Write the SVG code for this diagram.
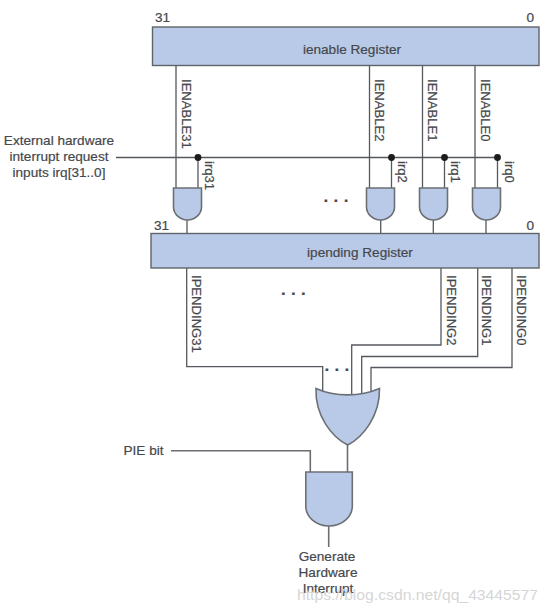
<svg xmlns="http://www.w3.org/2000/svg" width="548" height="613" viewBox="0 0 548 613">
<style>
text{font-family:"Liberation Sans",Arial,sans-serif;font-size:13.6px;fill:#46484c;stroke:#46484c;stroke-width:.2}
.v{font-size:13.1px}
.reg{fill:#b9cae8;stroke:#5f6468;stroke-width:1.4}
.gate{fill:#b9cae8;stroke:#6c7074;stroke-width:1.6}
.w{fill:none;stroke:#55585c;stroke-width:1.3}
.w2{fill:none;stroke:#6a6d71;stroke-width:1.6}
.dot{fill:#1c1c1c}
.c{text-anchor:middle}
.dots{font-size:17px;font-weight:bold}
.wm{font-size:15.5px;fill:#d6d6d6;stroke:none}
</style>
<rect width="548" height="613" fill="#fff"/>
<g id="connectors">
<path class="w" d="M176 65V188M369.5 65V188M422.5 65V188M475 65V188"/>
<path class="w" d="M116 157.5H497.5"/>
<path class="w" d="M198 157.5V188M391.5 157.5V188M444.5 157.5V188M497.5 157.5V188"/>
<path class="w" d="M187 220V234M380.7 220V234M433.3 220V234M486 220V234"/>
<path class="w" d="M186.7 268V366.7H322.7V392"/>
<path class="w" d="M441 268V345H351.7V395"/>
<path class="w" d="M477.7 268V356.5H361.7V395"/>
<path class="w" d="M512 268V367.5H371V392"/>
<path class="w2" d="M347.5 445V472"/>
<path class="w2" d="M171 450.7H310.3V472"/>
<path class="w2" d="M328.7 526V547"/>
<circle class="dot" cx="198" cy="157.5" r="3.4"/>
<circle class="dot" cx="391.5" cy="157.5" r="3.4"/>
<circle class="dot" cx="444.5" cy="157.5" r="3.4"/>
<circle class="dot" cx="497.5" cy="157.5" r="3.4"/>
</g>
<g id="ienable-register">
<rect class="reg" x="152.5" y="27" width="386.5" height="38.5"/>
<text class="c" x="352" y="54">ienable Register</text>
<text x="155" y="22">31</text>
<text x="526.5" y="22">0</text>
</g>
<g id="ipending-register">
<rect class="reg" x="151" y="233.5" width="388" height="34.5"/>
<text class="c" x="360" y="257">ipending Register</text>
<text x="154" y="230">31</text>
<text x="526.5" y="230">0</text>
</g>
<g id="and-31"><path class="gate" d="M173.5 188H201.5V207C201.5 214 195 220 187.5 220S173.5 214 173.5 207Z"/></g>
<g id="and-2"><path class="gate" d="M366.5 188H394.5V207C394.5 214 388 220 380.5 220S366.5 214 366.5 207Z"/></g>
<g id="and-1"><path class="gate" d="M419.5 188H447.5V207C447.5 214 441 220 433.5 220S419.5 214 419.5 207Z"/></g>
<g id="and-0"><path class="gate" d="M472.5 188H500.5V207C500.5 214 494 220 486.5 220S472.5 214 472.5 207Z"/></g>
<g id="or-gate"><path class="gate" d="M316 388.5C335 397 360 397 379.5 388.5C380 416 363 437 347.7 445C332 437 315 416 316 388.5Z"/></g>
<g id="and-pie"><path class="gate" d="M305.8 472H352.3V506C352.3 517 342 526 329 526S305.8 517 305.8 506Z"/></g>
<g id="labels">
<text class="c" x="59" y="145">External hardware</text>
<text class="c" x="59" y="161">interrupt request</text>
<text class="c" x="59" y="177">inputs irq[31..0]</text>
<text x="123.5" y="455">PIE bit</text>
<text class="c" x="327" y="561">Generate</text>
<text class="c" x="328" y="577">Hardware</text>
<text class="c" x="328" y="593">Interrupt</text>
<text class="v" transform="translate(181.5 79) rotate(90)">IENABLE31</text>
<text class="v" transform="translate(375 79) rotate(90)">IENABLE2</text>
<text class="v" transform="translate(428.3 79) rotate(90)">IENABLE1</text>
<text class="v" transform="translate(480.7 79) rotate(90)">IENABLE0</text>
<text class="v" transform="translate(205 161) rotate(90)">irq31</text>
<text class="v" transform="translate(398 161) rotate(90)">irq2</text>
<text class="v" transform="translate(451 161) rotate(90)">irq1</text>
<text class="v" transform="translate(504.5 161) rotate(90)">irq0</text>
<text class="v" transform="translate(192 275) rotate(90)">IPENDING31</text>
<text class="v" transform="translate(446.5 275) rotate(90)">IPENDING2</text>
<text class="v" transform="translate(481.7 275) rotate(90)">IPENDING1</text>
<text class="v" transform="translate(516.7 275) rotate(90)">IPENDING0</text>
<text class="dots" x="323.4 333.4 343.7" y="202">...</text>
<text class="dots" x="281 291 301" y="295">...</text>
<text class="dots" x="324.4 334.4 344.4" y="371">...</text>
<text class="wm" x="297" y="600" textLength="241" lengthAdjust="spacingAndGlyphs">https://blog.csdn.net/qq_43445577</text>
</g>
</svg>
